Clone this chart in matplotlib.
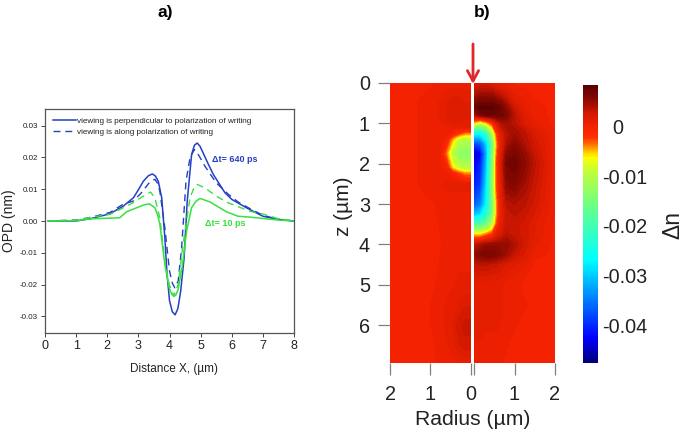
import numpy as np
import matplotlib
matplotlib.use("Agg")
import matplotlib.pyplot as plt
from matplotlib.colors import LinearSegmentedColormap, Normalize
from matplotlib.cm import ScalarMappable

plt.rcParams['font.family'] = ['Liberation Sans', 'DejaVu Sans']

W, H = 685, 433

def box(x0, y0, x1, y1):
    # pixel box (y down) to figure fractions
    return [x0/W, 1-y1/H, (x1-x0)/W, (y1-y0)/H]

# Panel a) OPD curves
x_blue = [0.1, 1, 1.5, 2.09, 2.52, 2.84, 3.0, 3.16, 3.32, 3.45, 3.55, 3.64, 3.75, 3.85, 3.92, 4.0, 4.09, 4.18, 4.27, 4.36, 4.47, 4.57, 4.71, 4.8, 4.89, 4.98, 5.08, 5.25, 5.41, 5.78, 6.0, 6.5, 7, 7.5, 8]
y_blue = [0, 0, .0008, .0023, .0047, .0073, .0098, .0125, .0142, .0148, .0141, .0125, .0073, -.0052, -.0165, -.025, -.0285, -.0295, -.0275, -.022, -.0115, .0063, .0209, .0238, .0245, .0235, .0214, .0178, .0146, .0089, .0068, .004, .0015, .0005, 0]
x_blue_d = [0.1, 1, 1.5, 2.09, 2.5, 2.84, 3.1, 3.37, 3.53, 3.62, 3.69, 3.85, 4.0, 4.09, 4.17, 4.28, 4.39, 4.53, 4.66, 4.8, 4.95, 5.14, 5.5, 5.89, 6.2, 6.6, 7, 7.5, 8]
y_blue_d = [0, .0003, .0012, .0027, .0052, .0063, .0089, .0123, .0131, .0118, .0094, -.0021, -.0157, -.0195, -.021, -.0188, -.0084, .0125, .0199, .0225, .0205, .0172, .012, .0084, .006, .0038, .0018, .0005, 0]
x_green = [0.1, 1, 1.5, 2.09, 2.4, 2.62, 3.16, 3.35, 3.53, 3.62, 3.69, 3.85, 3.99, 4.07, 4.14, 4.21, 4.28, 4.42, 4.55, 4.71, 4.85, 4.98, 5.3, 5.83, 6.2, 6.6, 7, 7.5, 8]
y_green = [0, .0001, .0007, .0009, .001, .0029, .005, .0054, .0042, .0018, -.001, -.0136, -.021, -.023, -.0237, -.0232, -.0214, -.0136, -.0031, .0042, .0062, .0071, .006, .0029, .0015, .0012, .0008, .0003, 0]
x_green_d = [0.1, 1, 1.5, 2.09, 2.73, 3.16, 3.39, 3.53, 3.69, 3.85, 3.99, 4.14, 4.28, 4.42, 4.53, 4.66, 4.78, 4.89, 5.14, 5.5, 5.89, 6.6, 7, 7.5, 8]
y_green_d = [0, .0003, .0012, .0021, .0052, .0078, .0091, .0073, .001, -.0125, -.0199, -.0235, -.0199, -.0085, -.001, .0073, .0103, .0115, .0104, .0078, .0057, .003, .0022, .0007, 0]

# Panel b) index change in units of 1e-3
z_right = [0, .3, .6, .8, 1, 1.25, 1.5, 1.75, 2, 2.5, 3, 3.25, 3.5, 3.75, 4, 4.25, 4.5, 5, 5.5, 6, 6.5, 6.94]
r_right = [0, .15, .3, .45, .55, .65, .8, 1, 1.25, 1.5, 2]
dn_right = [
    [2, 2, 2, 1.5, 1, .5, .5, 0, 0, 0, 0],
    [4, 5, 5, 5, 4, 3.5, 2.5, 1, .5, 0, 0],
    [7, 8, 8, 8, 7.5, 7, 5, 2.5, 1, .5, 0],
    [4, 6, 7, 7, 7, 7, 6, 3.5, 1.5, .5, 0],
    [-6, -9, -6, -2, 1.5, 3.5, 4.5, 3.5, 2, 1, 0],
    [-26, -27, -22, -11, -3, 1, 3.5, 4.5, 3.5, 2, .2],
    [-38, -37, -30, -16, -5, .5, 4, 5.5, 4, 2.5, .3],
    [-45, -43, -32, -15, -4, 1, 5.5, 6.5, 5, 3, .3],
    [-43, -41, -31, -14, -3, 1.5, 6.5, 7, 5.5, 3.5, .3],
    [-41, -39, -29, -13, -3, 1, 5.5, 6, 4.5, 3, .3],
    [-37, -35, -27, -15, -5, .5, 3.5, 4, 3.5, 2.5, .2],
    [-31, -29, -23, -15, -5, .5, 3, 3.5, 3, 2, .2],
    [-19, -19, -16, -10, -3, 1, 3, 3, 2.5, 1.5, 0],
    [-6, -6, -4, -2, 1, 2, 3.5, 3, 2.5, 1.5, 0],
    [3, 4, 5, 5, 5, 5, 5, 4, 2.5, 1, 0],
    [5, 6, 6.5, 6.5, 6, 5.5, 4.5, 3, 2, .5, 0],
    [3, 3.5, 3.5, 3, 3, 2.5, 2, 1.5, 1, 0, 0],
    [1, 1, 1, 1, 1, 1, .5, .5, 0, 0, 0],
    [1, 1, 1, 1, 1, 1, .5, .5, .3, 0, 0],
    [1, 1, 1, 1, 1, .8, .5, .3, 0, 0, 0],
    [.8, .8, .5, .5, .5, .3, .3, 0, 0, 0, 0],
    [.5, .5, .5, .3, .3, .3, 0, 0, 0, 0, 0],
]

z_left = [0, .5, .9, 1.1, 1.25, 1.4, 1.75, 2.1, 2.25, 2.5, 3, 4, 5, 5.5, 6, 6.5, 6.94]
r_left = [0, .15, .3, .45, .6, .75, .9, 1.25, 1.5, 2]
dn_left = [
    [.5, .5, .5, .5, .5, .3, .2, 0, 0, 0],
    [1.5, 1.5, 2, 2, 1.5, 1, .5, .3, 0, 0],
    [1.5, 1.5, 2, 2, 1.5, 1, .5, .3, 0, 0],
    [1, 1, 1, 1, .5, .5, .5, .3, 0, 0],
    [-4, -4, -2, -.5, .5, .5, .5, .3, 0, 0],
    [-10, -10, -9, -5, -.5, .5, .5, .3, 0, 0],
    [-13, -14, -13, -10, -4, .3, .5, .3, 0, 0],
    [-10, -10, -9, -6, -.5, .3, .5, .3, 0, 0],
    [-4, -4, -2, -.5, .3, .5, .5, .3, 0, 0],
    [1, 1, 1, 1, 1, .8, .5, .3, 0, 0],
    [.6, .6, .6, .6, .5, .3, .2, 0, 0, 0],
    [.5, .5, .5, .5, .4, .2, 0, 0, 0, 0],
    [1, 1, 1, .8, .5, .3, .2, 0, 0, 0],
    [2, 2, 1.5, 1, 1, .5, .3, 0, 0, 0],
    [3, 3, 2.5, 1.5, 1, .5, .3, 0, 0, 0],
    [2.5, 2.5, 2, 1.2, .8, .5, .2, 0, 0, 0],
    [1, 1, 1, .5, .5, .3, .2, 0, 0, 0],
]

cbar_ticks = [0, -0.01, -0.02, -0.03, -0.04]
cbar_labels = ['  0', '-0.01', '-0.02', '-0.03', '-0.04']

BLUE = '#2440c4'
GREEN = '#38e040'
GRAY = '#808080'
TEXT = '#222222'

# Colormap stretched jet
cmap = LinearSegmentedColormap.from_list('dn', [
    (0.00, '#00007a'), (0.09, '#0000ff'), (0.37, '#00ffff'), (0.55, '#60ff90'),
    (0.70, '#c8ff30'), (0.74, '#ffff00'), (0.775, '#ff9a00'), (0.81, '#ff3000'),
    (0.85, '#f52200'), (0.90, '#d01800'), (0.95, '#8c0800'), (1.00, '#560000')])
vmin, vmax = -0.0476, 0.0084
norm = Normalize(vmin, vmax)

fig = plt.figure(figsize=(W/100, H/100), dpi=100)
fig.text(165/W, 1-12/H, 'a)', fontsize=12.5, fontweight='bold', ha='center', va='center')
fig.text(482/W, 1-12/H, 'b)', fontsize=12.5, fontweight='bold', ha='center', va='center')

# a)
ax = fig.add_axes(box(45, 109, 294, 333))
ax.plot(x_blue, y_blue, color=BLUE, lw=1.1, label='viewing is perpendicular to polarization of writing')
ax.plot(x_blue_d, y_blue_d, color=BLUE, lw=1.0, ls=(0, (5, 3.5)), label='viewing is along polarization of writing')
ax.plot(x_green, y_green, color=GREEN, lw=1.1)
ax.plot(x_green_d, y_green_d, color=GREEN, lw=1.0, ls=(0, (5, 3.5)))
ax.set_xlim(0, 8)
ax.set_ylim(-0.0352, 0.0352)
ax.set_xticks(range(9))
ax.set_yticks([-0.03, -0.02, -0.01, 0, 0.01, 0.02, 0.03])
ax.set_yticklabels(['-0.03', '-0.02', '-0.01', '0.00', '0.01', '0.02', '0.03'])
ax.tick_params(axis='x', labelsize=9, length=3, width=0.7, color='#444444', pad=2, labelcolor=TEXT)
ax.tick_params(axis='y', labelsize=5.8, length=3, width=0.7, color='#444444', pad=2, labelcolor=TEXT)
for s in ax.spines.values():
    s.set_linewidth(0.9)
    s.set_color('#555555')
ax.set_xlabel('Distance X, (µm)', fontsize=8.5, labelpad=8, x=0.52, color=TEXT)
ax.set_ylabel('OPD (nm)', fontsize=10, labelpad=3, color=TEXT)
ax.legend(loc='upper left', frameon=False, fontsize=5.9, handlelength=2.8, handletextpad=0.2,
          labelspacing=0.5, borderaxespad=0.3, borderpad=0.65, labelcolor=TEXT)
ax.text(5.35, 0.0192, 'Δt= 640 ps', color=BLUE, fontsize=6.5, fontweight='bold', va='center')
ax.text(5.15, -0.0009, 'Δt= 10 ps', color=GREEN, fontsize=6.5, fontweight='bold', va='center')

# b)
gap = 0.04
bx = fig.add_axes(box(390, 83, 555, 363))
levels = np.linspace(vmin*1000, vmax*1000, 90)
bx.contourf(-(np.array(r_left)+gap), z_left, dn_left, levels=levels, cmap=cmap, extend='both')
bx.contourf(np.array(r_right)+gap, z_right, dn_right, levels=levels, cmap=cmap, extend='both')
bx.set_xlim(-2-gap, 2+gap)
bx.set_ylim(6.94, 0)
bx.set_xticks([-2-gap, -1-gap, -gap, gap, 1+gap, 2+gap])
bx.set_xticklabels(['2', '1', '0', '', '1', '2'])
bx.set_yticks(range(7))
bx.tick_params(labelsize=14.3, length=8.5, width=0.9, color=GRAY, labelcolor=TEXT)
bx.tick_params(axis='y', pad=6)
bx.tick_params(axis='x', pad=7)
for s in bx.spines.values():
    s.set_visible(False)
bx.set_xlabel('Radius (µm)', fontsize=15.2, labelpad=5, color=TEXT)
bx.set_ylabel('z (µm)', fontsize=15, labelpad=4, y=0.56, color=TEXT)
bx.annotate('', xy=(473/W, 1-84/H), xytext=(473/W, 1-44/H), xycoords='figure fraction',
            textcoords='figure fraction', annotation_clip=False,
            arrowprops=dict(arrowstyle='->,head_length=0.75,head_width=0.4', color='#e0282a', lw=2,
                            shrinkA=0, shrinkB=0))

# colourbar
cax = fig.add_axes(box(583, 85, 598, 363))
cb = fig.colorbar(ScalarMappable(norm=norm, cmap=cmap), cax=cax)
cb.set_ticks(cbar_ticks)
cb.set_ticklabels(cbar_labels)
cb.outline.set_visible(False)
cb.ax.tick_params(labelsize=14.3, length=0, pad=3, labelcolor=TEXT)
fig.text(673/W, 1-225/H, 'Δn', fontsize=16.5, rotation=90, ha='center', va='center', color=TEXT)

fig.savefig('out.png', dpi=100)
